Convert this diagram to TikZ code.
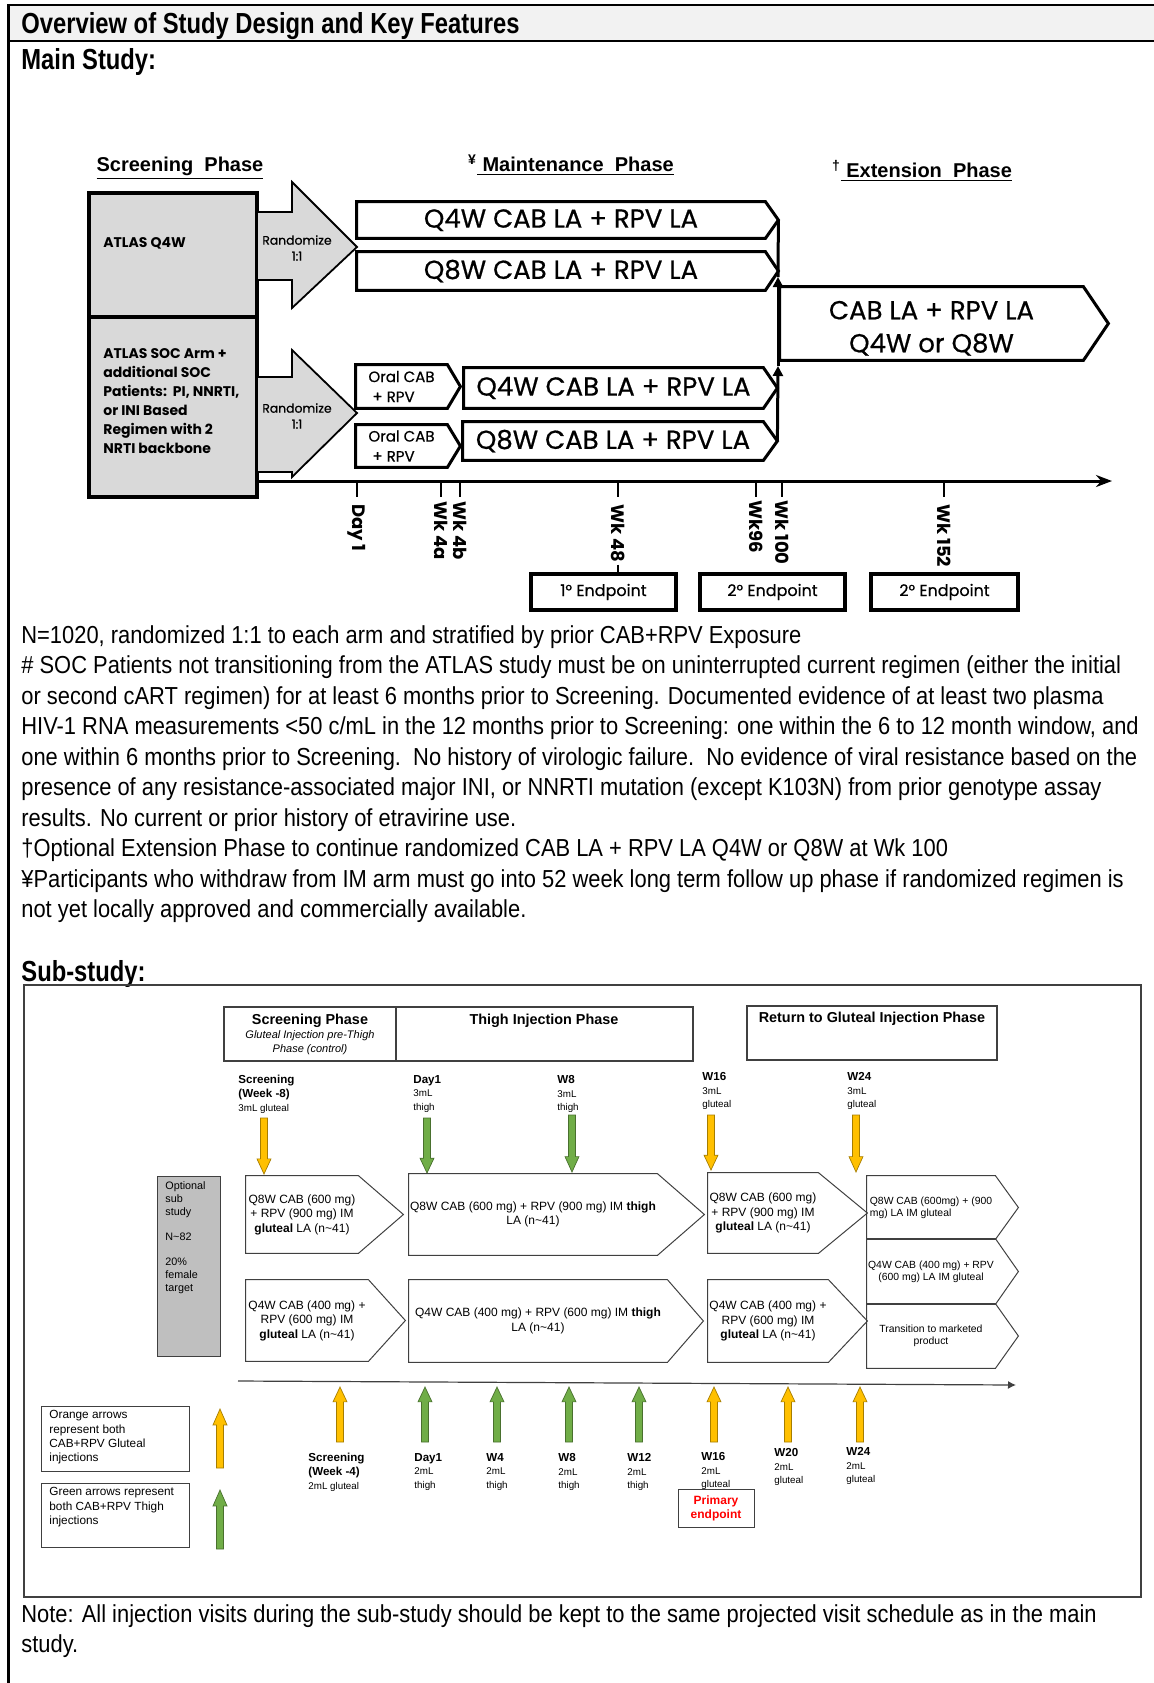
\documentclass[tikz,border=0pt]{standalone}
\usepackage{fontspec}
\setmainfont{Liberation Sans}
\newfontfamily\narrowfont{Liberation Sans}[FakeStretch=0.82]
\newfontfamily\bodyfont{Liberation Sans}[FakeStretch=0.89]
\newfontfamily\gothicfont{Poppins}
\newfontfamily\gothicmed{Poppins}[FakeBold=0.6]
\usepackage{tikz}
\usetikzlibrary{positioning, arrows.meta, calc}
\definecolor{HdrGray}{RGB}{242,242,242}
\definecolor{BoxGray}{RGB}{217,217,217}
\definecolor{SubGray}{RGB}{191,191,191}
\definecolor{InjOrange}{RGB}{255,192,0}
\definecolor{InjGreen}{RGB}{112,173,71}
\definecolor{LineGray}{RGB}{64,64,64}
\definecolor{EndRed}{RGB}{255,0,0}

% block arrow for an injection visit: x, tail y, tip y, colour
\newcommand{\injarrow}[4]{%
  \filldraw[fill=#4, draw=#4!65!black, line width=0.35pt]
    ({#1-3.5},#2) -- ({#1-3.5},{#3-0.27*(#3-#2)}) -- ({#1-7},{#3-0.27*(#3-#2)})
    -- (#1,#3) -- ({#1+7},{#3-0.27*(#3-#2)}) -- ({#1+3.5},{#3-0.27*(#3-#2)})
    -- ({#1+3.5},#2) -- cycle;}
\newcommand{\vsmall}{\fontsize{4.9}{5.6}\selectfont}

\begin{document}
\begin{tikzpicture}[x=0.5pt, y=-0.5pt,
    span/.style args={#1:#2:#3:#4}{at={({(#1+#3)/2},{(#2+#4)/2})},
      minimum width={(#3-#1)*0.5pt}, minimum height={(#4-#2)*0.5pt}, inner sep=0pt},
    mainline/.style={draw=black, line width=1.5pt},
    subline/.style={draw=LineGray, line width=0.5pt},
    arm/.style 2 args={inner sep=0pt, align=center,
      append after command={\pgfextra{\let\armnode\tikzlastnode
        \draw[#2] (\armnode.north west) -- (\armnode.north east)
          -- ([xshift=#1]\armnode.east) -- (\armnode.south east)
          -- (\armnode.south west) -- cycle;}}},
    titletext/.style={font=\narrowfont\bfseries\fontsize{14.5}{17}\selectfont, inner sep=0pt},
    bodytext/.style={font=\bodyfont\fontsize{12.3}{15.25}\selectfont, inner sep=0pt, align=left},
    phasetext/.style={font=\bfseries\fontsize{10}{12}\selectfont, inner sep=0pt},
    leftbox/.style={draw=black, line width=2pt, fill=BoxGray},
    atlastext/.style={font=\gothicfont\bfseries\fontsize{7}{9.5}\selectfont, inner sep=0pt},
    randarrow/.style={fill=BoxGray, draw=black, line width=0.9pt},
    randtext/.style={font=\gothicmed\fontsize{6.2}{8}\selectfont, align=center, inner sep=0pt},
    armtext/.style={font=\gothicmed\fontsize{13}{16.5}\selectfont},
    oraltext/.style={font=\gothicmed\fontsize{7.5}{10}\selectfont, align=left},
    tick/.style={line width=1.2pt},
    ticktext/.style={font=\gothicfont\bfseries\fontsize{9}{10}\selectfont, rotate=-90,
                     anchor=west, inner sep=0pt},
    endbox/.style={draw=black, line width=1.8pt, font=\gothicmed\fontsize{8}{9}\selectfont},
    subframe/.style={draw=LineGray, line width=0.6pt},
    subhdrbox/.style={draw=LineGray, line width=0.6pt},
    subhdrtext/.style={font=\bfseries\fontsize{7.2}{8.6}\selectfont, inner sep=0pt},
    subitalic/.style={font=\itshape\fontsize{5.5}{7}\selectfont, inner sep=0pt},
    subarm/.style={font=\fontsize{6}{7.25}\selectfont},
    smallarm/.style={font=\fontsize{5.2}{6}\selectfont},
    visit/.style={font=\fontsize{5.8}{6.8}\selectfont, align=left, inner sep=0pt,
                  anchor=north west},
    optbox/.style={draw=LineGray, line width=0.5pt, fill=SubGray},
    opttext/.style={font=\fontsize{5.4}{6.5}\selectfont, align=left, inner sep=0pt,
                    anchor=north west},
    primbox/.style={draw=LineGray, line width=0.5pt, text=EndRed,
                    align=center, font=\bfseries\fontsize{6}{7}\selectfont},
    legbox/.style={draw=LineGray, line width=0.5pt},
    legtext/.style={font=\fontsize{5.9}{7.2}\selectfont, align=left, inner sep=0pt,
                    anchor=north west}
  ]
  \useasboundingbox (0,0) rectangle (1154,1683);

  % page frame and title bar
  \fill[HdrGray] (8,5) rectangle (1154,41);
  \draw[line width=1.2pt] (8,5) -- (1154,5);
  \draw[line width=1.2pt] (8,41) -- (1154,41);
  \draw[line width=1.5pt] (8,4) -- (8,1683);
  \node[titletext, anchor=west] (title) at (21,26) {Overview of Study Design and Key Features};
  \node[titletext, anchor=west] (mainhdr) at (21,62) {Main Study:};

  % phase headings
  \node[phasetext] (scrph) at (180,168) {\underline{Screening\ \ Phase}};
  \node[phasetext] (mntph) at (571,165) {\textsuperscript{¥}\underline{\ Maintenance\ \ Phase}};
  \node[phasetext] (extph) at (922,171) {\textsuperscript{†}\underline{\ Extension\ \ Phase}};

  % screening boxes
  \node[leftbox, span=89:193:257:317] (atlasq4w) {};
  \node[leftbox, span=89:317:257:497] (atlassoc) {};
  \node[atlastext, anchor=west] (q4wlbl) at (103,243) {ATLAS Q4W};
  \node[atlastext, anchor=north west, align=left] (soclbl) at (103,348)
       {ATLAS SOC Arm +\\additional SOC\\Patients:\ \ PI, NNRTI,\\or INI Based\\Regimen with 2\\NRTI backbone};

  % randomisation arrows
  \filldraw[randarrow] (257,212) -- (292,212) -- (292,182) -- (357,247) -- (292,308)
                       -- (292,280) -- (257,280) -- cycle;
  \node[randtext] (rand1) at (297,248) {Randomize\\1:1};
  \filldraw[randarrow] (257,377) -- (292,377) -- (292,350) -- (357,413) -- (292,477)
                       -- (292,472) -- (257,472) -- cycle;
  \node[randtext] (rand2) at (297,416) {Randomize\\1:1};

  % maintenance arms
  \node[arm={6.5pt}{mainline}, span=357:202:765:238, armtext] (q4wup) {Q4W CAB LA + RPV LA};
  \node[arm={6.5pt}{mainline}, span=357:252:765:290, armtext] (q8wup) {Q8W CAB LA + RPV LA};
  \node[arm={6.5pt}{mainline}, span=356:365:447:408, oraltext] (oral1) {Oral CAB\\\ + RPV};
  \node[arm={7pt}{mainline}, span=464:368:763:408, armtext] (q4wlow) {Q4W CAB LA + RPV LA};
  \node[arm={6.5pt}{mainline}, span=356:425:447:467, oraltext] (oral2) {Oral CAB\\\ + RPV};
  \node[arm={7pt}{mainline}, span=463:422:763:460, armtext] (q8wlow) {Q8W CAB LA + RPV LA};

  % extension
  \node[arm={12.5pt}{mainline}, span=780:287:1083:360, armtext] (ext)
       {\rule{0pt}{14pt}CAB LA + RPV LA\\Q4W or Q8W};
  \coordinate (jup) at (778,277);
  \coordinate (jlow) at (778,366);
  \draw[line width=1.5pt] ([xshift=6.5pt]q4wup.east) -- (jup);
  \draw[line width=1.5pt, -{Triangle[length=5pt,width=5pt]}] (jlow) -- (jup);
  \draw[line width=1.5pt, -{Triangle[length=5pt,width=5pt]}] ([xshift=7pt]q8wlow.east) -- (jlow);

  % time line
  \coordinate (tl0) at (257,481);
  \coordinate (tl1) at (1112,481);
  \draw[line width=1.5pt, -{Stealth[length=8pt,width=6pt]}] (tl0) -- (tl1);
  \draw[tick] (357,481) -- (357,497);
  \draw[tick] (441,481) -- (441,497);
  \draw[tick] (460,481) -- (460,497);
  \draw[tick] (618,481) -- (618,497);
  \draw[tick] (756,481) -- (756,497);
  \draw[tick] (782,481) -- (782,497);
  \draw[tick] (944,481) -- (944,497);
  \node[ticktext] (day1) at (357,504) {Day 1};
  \node[ticktext] (wk4a) at (441,501) {Wk 4a};
  \node[ticktext] (wk4b) at (460,501) {Wk 4b};
  \node[ticktext] (wk48) at (618,504) {Wk 48};
  \node[ticktext] (wk96) at (756,500) {Wk96};
  \node[ticktext] (wk100) at (782,500) {Wk 100};
  \node[ticktext] (wk152) at (944,504) {Wk 152};

  % endpoints
  \node[endbox, span=531:574:676:610] (ep1) {1° Endpoint};
  \node[endbox, span=700:574:845:610] (ep2) {2° Endpoint};
  \node[endbox, span=871:574:1018:610] (ep3) {2° Endpoint};
  \draw[tick] ([yshift=-1pt]wk48.east) -- (wk48.east |- ep1.north);

  % notes
  \node[bodytext, anchor=north west] (notes) at (21,625) {%
    N=1020, randomized 1:1 to each arm and stratified by prior CAB+RPV Exposure\\
    \# SOC Patients not transitioning from the ATLAS study must be on uninterrupted current regimen (either the initial\\
    or second cART regimen) for at least 6 months prior to Screening. Documented evidence of at least two plasma\\
    HIV-1 RNA measurements <50 c/mL in the 12 months prior to Screening: one within the 6 to 12 month window, and\\
    one within 6 months prior to Screening.\ \ No history of virologic failure.\ \ No evidence of viral resistance based on the\\
    presence of any resistance-associated major INI, or NNRTI mutation (except K103N) from prior genotype assay\\
    results. No current or prior history of etravirine use.\\
    †Optional Extension Phase to continue randomized CAB LA + RPV LA Q4W or Q8W at Wk 100\\
    ¥Participants who withdraw from IM arm must go into 52 week long term follow up phase if randomized regimen is\\
    not yet locally approved and commercially available.};

  % sub-study
  \node[titletext, anchor=west] (subhdr) at (21,974) {Sub-study:};
  \node[subframe, span=24:985:1141:1597] (subbox) {};

  \node[subhdrbox, span=224:1007:396:1061] (hscr) {};
  \node[subhdrbox, span=396:1007:693:1061] (hthigh) {};
  \node[subhdrbox, span=747:1006:997:1060] (hret) {};
  \node[subhdrtext] (tscr) at (310,1021) {Screening Phase};
  \node[subitalic, align=center] (tscr2) at (310,1043) {Gluteal Injection pre-Thigh\\Phase (control)};
  \node[subhdrtext] (tthigh) at (544,1021) {Thigh Injection Phase};
  \node[subhdrtext] (tret) at (872,1019) {Return to Gluteal Injection Phase};

  % visits above
  \node[visit] (vscr) at (238,1075) {\textbf{Screening}\\\textbf{(Week -8)}\\{\vsmall 3mL gluteal}};
  \node[visit] (vday1) at (413,1075) {\textbf{Day1}\\{\vsmall 3mL}\\{\vsmall thigh}};
  \node[visit] (vw8) at (557,1075) {\textbf{W8}\\{\vsmall 3mL}\\{\vsmall thigh}};
  \node[visit] (vw16) at (702,1072) {\textbf{W16}\\{\vsmall 3mL}\\{\vsmall gluteal}};
  \node[visit] (vw24) at (847,1072) {\textbf{W24}\\{\vsmall 3mL}\\{\vsmall gluteal}};
  \injarrow{264}{1118}{1174}{InjOrange}
  \injarrow{427}{1118}{1173}{InjGreen}
  \injarrow{572}{1115}{1172}{InjGreen}
  \injarrow{711}{1115}{1170}{InjOrange}
  \injarrow{856}{1115}{1172}{InjOrange}

  % optional sub study
  \node[optbox, span=157:1176:220:1356] (optbox) {};
  \node[opttext] (opttxt) at (165,1181)
       {Optional\\sub\\study\\[6pt]N\textasciitilde82\\[6pt]20\%\\female\\target};

  % Q8W row
  \node[arm={22.5pt}{subline}, span=246:1176:358:1253, subarm] (sa1)
       {Q8W CAB (600 mg)\\+ RPV (900 mg) IM\\\textbf{gluteal} LA (n\textasciitilde41)};
  \node[arm={23.5pt}{subline}, span=409:1174:657:1255, subarm] (sb1)
       {Q8W CAB (600 mg) + RPV (900 mg) IM \textbf{thigh}\\LA (n\textasciitilde41)};
  \node[arm={24.5pt}{subline}, span=708:1173:818:1253, subarm] (sc1)
       {Q8W CAB (600 mg)\\+ RPV (900 mg) IM\\\textbf{gluteal} LA (n\textasciitilde41)};

  % Q4W row
  \node[arm={18.5pt}{subline}, span=246:1280:368:1361, subarm] (sa2)
       {Q4W CAB (400 mg) +\\RPV (600 mg) IM\\\textbf{gluteal} LA (n\textasciitilde41)};
  \node[arm={18pt}{subline}, span=409:1280:667:1362, subarm] (sb2)
       {Q4W CAB (400 mg) + RPV (600 mg) IM \textbf{thigh}\\LA (n\textasciitilde41)};
  \node[arm={19.5pt}{subline}, span=708:1280:828:1362, subarm] (sc2)
       {Q4W CAB (400 mg) +\\RPV (600 mg) IM\\\textbf{gluteal} LA (n\textasciitilde41)};

  % after week 24
  \node[arm={11.5pt}{subline}, span=867:1176:995:1239, smallarm, align=left] (sd1)
       {Q8W CAB (600mg) + (900\\mg) LA IM gluteal};
  \node[arm={11.5pt}{subline}, span=867:1239:995:1304, smallarm] (sd2)
       {Q4W CAB (400 mg) + RPV\\(600 mg) LA IM gluteal};
  \node[arm={11.5pt}{subline}, span=867:1304:995:1368, smallarm] (sd3)
       {Transition to marketed\\product};

  % sub-study time line
  \coordinate (st0) at (238,1381);
  \coordinate (st1) at (1016,1385);
  \draw[LineGray, line width=0.6pt, -{Latex[length=4pt,width=4pt]}] (st0) -- (st1);
  \injarrow{340}{1442}{1387}{InjOrange}
  \injarrow{425}{1442}{1387}{InjGreen}
  \injarrow{497}{1442}{1387}{InjGreen}
  \injarrow{569}{1442}{1387}{InjGreen}
  \injarrow{639}{1442}{1387}{InjGreen}
  \injarrow{714}{1442}{1387}{InjOrange}
  \injarrow{788}{1442}{1387}{InjOrange}
  \injarrow{860}{1442}{1387}{InjOrange}

  % visits below
  \node[visit] (bscr) at (308,1453) {\textbf{Screening}\\\textbf{(Week -4)}\\{\vsmall 2mL gluteal}};
  \node[visit] (bday1) at (414,1453) {\textbf{Day1}\\{\vsmall 2mL}\\{\vsmall thigh}};
  \node[visit] (bw4) at (486,1453) {\textbf{W4}\\{\vsmall 2mL}\\{\vsmall thigh}};
  \node[visit] (bw8) at (558,1453) {\textbf{W8}\\{\vsmall 2mL}\\{\vsmall thigh}};
  \node[visit] (bw12) at (627,1453) {\textbf{W12}\\{\vsmall 2mL}\\{\vsmall thigh}};
  \node[visit] (bw16) at (701,1452) {\textbf{W16}\\{\vsmall 2mL}\\{\vsmall gluteal}};
  \node[visit] (bw20) at (774,1448) {\textbf{W20}\\{\vsmall 2mL}\\{\vsmall gluteal}};
  \node[visit] (bw24) at (846,1447) {\textbf{W24}\\{\vsmall 2mL}\\{\vsmall gluteal}};
  \node[primbox, span=678:1489:754:1527] (prim) {Primary\\endpoint};

  % legend
  \node[legbox, span=41:1406:189:1471] (legor) {};
  \node[legtext] (legortxt) at (49,1410) {Orange arrows\\represent both\\CAB+RPV Gluteal\\injections};
  \node[legbox, span=41:1483:189:1547] (leggr) {};
  \node[legtext] (leggrtxt) at (49,1487) {Green arrows represent\\both CAB+RPV Thigh\\injections};
  \injarrow{220}{1468}{1409}{InjOrange}
  \injarrow{220}{1549}{1490}{InjGreen}

  \node[bodytext, anchor=north west] (note) at (21,1604) {%
    Note: All injection visits during the sub-study should be kept to the same projected visit schedule as in the main\\
    study.};
\end{tikzpicture}
\end{document}
